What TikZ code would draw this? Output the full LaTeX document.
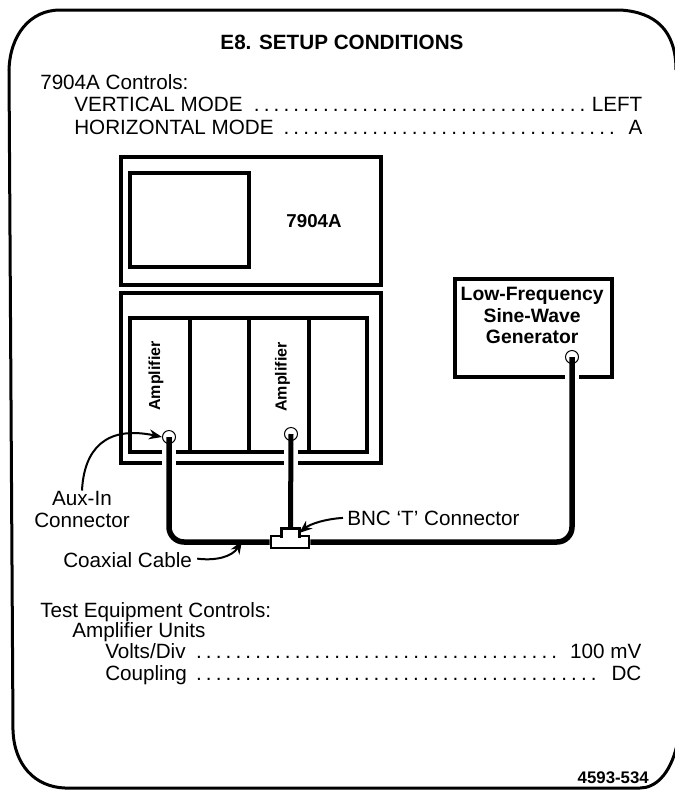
\documentclass[tikz,border=0pt]{standalone}
\usepackage{fontspec}
\setmainfont{Liberation Sans}
\usetikzlibrary{arrows.meta,positioning}
\newcommand{\px}{0.75pt}
\newcommand{\dotrun}{\hspace{3pt}\leaders\hbox to 7.4pt{\hss.\hss}\hfill\hspace{3pt}}
\newcommand{\ctrlrow}[3]{\hbox to #1{#2\dotrun #3}}
\tikzset{
  txt/.style={font=\fontsize{15.5}{16.5}\selectfont,inner sep=0pt},
  row/.style={txt,anchor=base west},
  boldtxt/.style={font=\fontsize{14.5}{16}\selectfont\bfseries,inner sep=0pt},
  panel/.style={rectangle,draw=black,line width=3.5*\px,fill=white,inner sep=0pt},
  divider/.style={draw=black,line width=3.5*\px},
  border/.style={draw=black,line width=3*\px},
  cablegap/.style={draw=white,line width=14*\px},
  jack/.style={circle,draw=black,line width=1*\px,fill=white,inner sep=0pt,
    minimum size=13*\px},
  cable/.style={draw=black,line width=5.5*\px,rounded corners=15*\px},
  teebody/.style={rectangle,draw=black,line width=2.7*\px,fill=white,inner sep=0pt},
  teeline/.style={draw=black,line width=2.7*\px},
  callout/.style={-{Stealth[length=13*\px,width=10*\px]},draw=black,line width=2*\px}
}
\begin{document}
\begin{tikzpicture}[x=0.75pt,y=-0.75pt]
  \useasboundingbox (0,0) rectangle (675,790);
  \draw[border] (676,70) .. controls (676,30) and (655,12) .. (620,10) -- (60,10)
    .. controls (30,10) and (10,35) .. (9,70) -- (13,730)
    .. controls (14,765) and (35,787) .. (65,788) -- (640,788)
    .. controls (655,788) and (670,775) .. (677,745);
  % header and settings
  \node[boldtxt,font=\fontsize{15.5}{18}\selectfont\bfseries,anchor=base] (title) at (342,49) {E8. SETUP CONDITIONS};
  \node[row] (ctrlhead) at (40,89) {7904A Controls:};
  \node[row] (vmode) at (74,111) {\ctrlrow{426pt}{VERTICAL MODE}{LEFT}};
  \node[row] (hmode) at (74,134) {\ctrlrow{426pt}{HORIZONTAL MODE}{A}};
  \node[row] (testhead) at (40,617) {Test Equipment Controls:};
  \node[row] (ampunits) at (72,637) {Amplifier Units};
  \node[row] (volts) at (105,658) {\ctrlrow{402pt}{Volts/Div}{100 mV}};
  \node[row] (coupling) at (105,680) {\ctrlrow{402pt}{Coupling}{DC}};
  \node[boldtxt,font=\fontsize{12.6}{14}\selectfont\bfseries,anchor=base east] (partno) at (649,783) {4593-534};
  % mainframe
  \node[panel,minimum width=260*\px,minimum height=128*\px] (scope) at (251,221) {};
  \node[panel,minimum width=119*\px,minimum height=94*\px] (screen) at (189.5,220) {};
  \node[boldtxt,font=\fontsize{14}{16}\selectfont\bfseries] (scopename) at (314,221) {7904A};
  \node[panel,minimum width=260*\px,minimum height=170*\px,below=3.4pt of scope] (plugin) {};
  \node[panel,minimum width=237*\px,minimum height=134*\px] (bays) at (248.5,385) {};
  \foreach \x in {190,249,309}
    \draw[divider] (\x,0 |- bays.north) -- (\x,0 |- bays.south);
  \node[boldtxt,font=\fontsize{12}{14}\selectfont\bfseries,rotate=90] (amp1) at (156,376) {Amplifier};
  \node[boldtxt,font=\fontsize{12}{14}\selectfont\bfseries,rotate=90] (amp2) at (282.5,377) {Amplifier};
  % generator
  \node[panel,minimum width=157*\px,minimum height=98*\px] (gen) at (533.5,328) {};
  \node[boldtxt,align=center,below=7.5pt of gen.north,xshift=-1pt] (gentext) {Low-Frequency\\Sine-Wave\\Generator};
  % jacks and cables
  \node[jack] (jack1) at (169,437) {};
  \node[jack] (jack2) at (291,434) {};
  \node[jack] (jack3) at (572,357) {};
  \draw[cablegap] (jack1.south) -- (jack1 |- plugin.south);
  \draw[cablegap] (jack2.south) -- (jack2 |- plugin.south);
  \draw[cablegap] (jack3.south) -- (jack3 |- gen.south);
  \node[teebody,minimum width=38*\px,minimum height=12*\px] (tee) at (290,542) {};
  \node[fill=white,inner sep=0pt,minimum width=17*\px,minimum height=9*\px] (teeneck) at (290.5,533) {};
  \draw[teeline] (teeneck.south west) |- (teeneck.north east) -- (teeneck.south east);
  \draw[cable] (jack1.center) |- (tee.west);
  \draw[cable,line width=5*\px] (jack2.center) -- (teeneck.north);
  \draw[cable] (jack3.center) |- (tee.east);
  % labels
  \node[txt,align=center] (auxin) at (82,509) {Aux-In\\Connector};
  \node[txt,anchor=base west] (coaxlabel) at (63,567) {Coaxial Cable};
  \node[txt,anchor=base west] (bnclabel) at (347,525) {BNC `T' Connector};
  \coordinate (coaxpoint) at (242,541);
  \draw[callout] (auxin.north) .. controls (84,450) and (105,425) .. (jack1.west);
  \draw[callout] (coaxlabel.east) ++(5,-1) .. controls (215,561) and (232,557) .. (coaxpoint);
  \draw[callout] (bnclabel.west) ++(-4,0) .. controls (325,519) and (310,524) .. (teeneck.east);
\end{tikzpicture}
\end{document}
